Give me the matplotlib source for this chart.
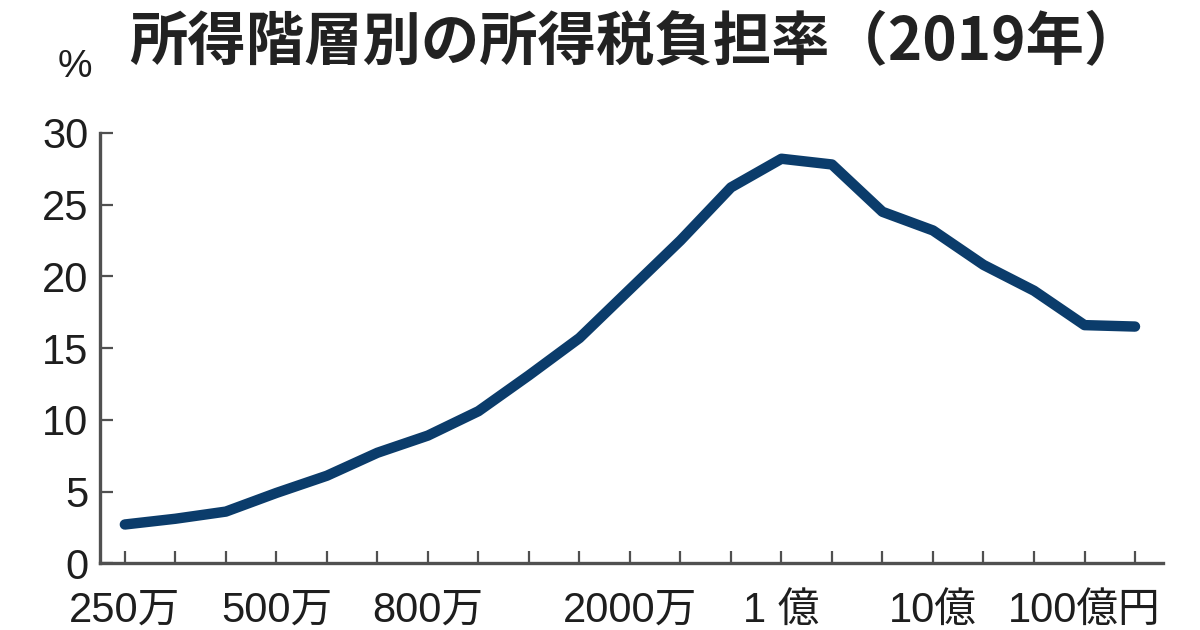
import matplotlib
matplotlib.use("Agg")
import matplotlib.pyplot as plt

# income brackets (upper bound), 21 points from 250万 to 100億超
brackets = ["250万", "300万", "400万", "500万", "600万", "700万", "800万",
            "1000万", "1200万", "1500万", "2000万", "3000万", "5000万", "1億",
            "2億", "5億", "10億", "20億", "50億", "100億", "100億超"]
tax_rate = [2.7, 3.1, 3.6, 4.9, 6.1, 7.7, 8.9, 10.6, 13.1, 15.7, 19.1,
            22.5, 26.2, 28.2, 27.8, 24.5, 23.2, 20.8, 19.0, 16.6, 16.5]

tick_idx = [0, 3, 6, 10, 13, 16, 19]
tick_labels = ["250万", "500万", "800万", "2000万", "1 億", "10億", "100億円"]
y_ticks = [0, 5, 10, 15, 20, 25, 30]

NAVY = "#0b3c6b"
AXIS = "#505050"
TXT = "#1e1e1e"
FONTS = ["Liberation Sans", "Noto Sans CJK JP", "DejaVu Sans"]

fig = plt.figure(figsize=(12, 6.3), dpi=100)
ax = fig.add_axes([0.083, 0.106, 0.886, 0.683])

x = list(range(len(brackets)))
ax.plot(x, tax_rate, color=NAVY, lw=7.5, solid_capstyle="round",
        solid_joinstyle="round")

ax.set_xlim(-0.5, 20.55)
ax.set_ylim(0, 30)
ax.set_xticks(x, minor=True)
ax.set_xticks(tick_idx)
ax.set_xticklabels(tick_labels)
ax.set_yticks(y_ticks)

for s in ("top", "right"):
    ax.spines[s].set_visible(False)
for s in ("left", "bottom"):
    ax.spines[s].set_color(AXIS)
    ax.spines[s].set_linewidth(2.4)
ax.spines["left"].set_bounds(0, 30)

ax.tick_params(axis="both", which="both", direction="in", color=AXIS,
               width=1.6, length=9)
ax.tick_params(axis="x", which="major", pad=20)
ax.tick_params(axis="y", which="major", pad=8)
for lab in ax.get_xticklabels() + ax.get_yticklabels():
    lab.set_family(FONTS)
    lab.set_fontsize(30)
    lab.set_color(TXT)

fig.text(0.53, 0.933, "所得階層別の所得税負担率（2019年）", ha="center",
         va="center", fontsize=42, fontweight="bold", color="#222222",
         family=["Noto Sans CJK JP", "DejaVu Sans"])
fig.text(0.062, 0.893, "%", ha="center", va="center", fontsize=28,
         color=TXT, family=FONTS)

fig.savefig("out.png", dpi=100)
